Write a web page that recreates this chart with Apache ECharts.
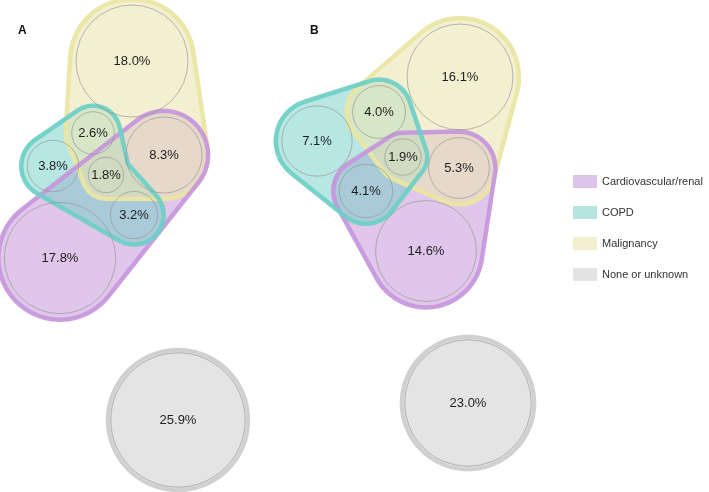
<!DOCTYPE html>
<html><head><meta charset="utf-8">
<script src="https://cdn.jsdelivr.net/npm/echarts@6/dist/echarts.min.js"></script>
<style>html,body{margin:0;padding:0;background:#fff}#c{width:709px;height:492px}</style>
</head><body><div id="c"></div>
<script>
// ---- data ----
const setNames = ['Cardiovascular/renal', 'COPD', 'Malignancy', 'None or unknown'];
const setKeys = ['V', 'C', 'M', 'N'];
const panelLabels = ['A', 'B'];
// Panel A: percentages, circle centres, set membership (M=malignancy, C=COPD, V=cardiovascular, N=none)
const aValues = [18.0, 2.6, 3.8, 1.8, 8.3, 3.2, 17.8, 25.9];
const aX = [132, 93, 53, 106, 164, 134, 60, 178];
const aY = [61, 133, 166, 175, 155, 215, 258, 420];
const aSets = ['M', 'MC', 'C', 'MCV', 'MV', 'CV', 'V', 'N'];
// outline of COPD in panel A bends inward: union of two sub-hulls (circle indices)
const aGroups = {C: [[2, 1, 3], [2, 3, 5]]};
// Panel B
const bValues = [16.1, 4.0, 7.1, 1.9, 5.3, 4.1, 14.6, 23.0];
const bX = [460, 379, 317, 403, 459, 366, 426, 468];
const bY = [77, 112, 141, 157, 168, 191, 251, 403];
const bSets = ['M', 'MC', 'C', 'MCV', 'MV', 'CV', 'V', 'N'];
const bGroups = {};

const panels = [
  {values: aValues, x: aX, y: aY, sets: aSets, groups: aGroups},
  {values: bValues, x: bX, y: bY, sets: bSets, groups: bGroups}
];
const radiusScale = v => 13.2 * Math.sqrt(v);

const styles = {
  V: {fill: 'rgba(193,141,213,0.5)', stroke: 'rgba(197,150,220,0.92)', width: 4.5, pad: 6, legend: '#dcc4e8'},
  C: {fill: 'rgba(113,205,197,0.5)', stroke: 'rgba(108,207,198,0.92)', width: 4.5, pad: 6, legend: '#b5e5e1'},
  M: {fill: 'rgba(235,230,180,0.6)', stroke: 'rgba(234,230,163,0.95)', width: 4.5, pad: 6, legend: '#f2f0cf'},
  N: {fill: 'rgba(228,228,228,1)', stroke: 'rgba(208,208,208,1)', width: 4, pad: 3, legend: '#e3e3e3'}
};

function convexHull(points) {
  const pts = points.slice().sort((a, b) => a[0] - b[0] || a[1] - b[1]);
  const cross = (o, a, b) => (a[0] - o[0]) * (b[1] - o[1]) - (a[1] - o[1]) * (b[0] - o[0]);
  const lower = [];
  for (const p of pts) { while (lower.length >= 2 && cross(lower[lower.length - 2], lower[lower.length - 1], p) <= 0) lower.pop(); lower.push(p); }
  const upper = [];
  for (let i = pts.length - 1; i >= 0; i--) { const p = pts[i]; while (upper.length >= 2 && cross(upper[upper.length - 2], upper[upper.length - 1], p) <= 0) upper.pop(); upper.push(p); }
  upper.pop(); lower.pop();
  return lower.concat(upper);
}

function unionOutline(polys, c) {
  const out = [];
  const N = 360;
  const cr = (a, b) => a[0] * b[1] - a[1] * b[0];
  for (let k = 0; k < N; k++) {
    const th = k / N * Math.PI * 2;
    const d = [Math.cos(th), Math.sin(th)];
    const ivs = [];
    polys.forEach(poly => {
      const ts = [];
      for (let i = 0; i < poly.length; i++) {
        const p = poly[i], q = poly[(i + 1) % poly.length];
        const e = [q[0] - p[0], q[1] - p[1]];
        const den = cr(d, e);
        if (Math.abs(den) < 1e-9) continue;
        const pc = [p[0] - c[0], p[1] - c[1]];
        const t = cr(pc, e) / den;
        const s = cr(pc, d) / den;
        if (s >= -1e-6 && s <= 1 + 1e-6) ts.push(t);
      }
      if (ts.length >= 2) {
        const ta = Math.min(...ts), tb = Math.max(...ts);
        if (tb > 0) ivs.push([Math.max(ta, 0), tb]);
      }
    });
    let reach = 0, changed = true;
    while (changed) {
      changed = false;
      for (const iv of ivs) if (iv[0] <= reach + 0.5 && iv[1] > reach) { reach = iv[1]; changed = true; }
    }
    out.push([c[0] + reach * d[0], c[1] + reach * d[1]]);
  }
  return out;
}

function outlinePoints(P, key, api) {
  const pad = styles[key].pad;
  const circlePts = i => {
    const c = api.coord([P.x[i], P.y[i]]);
    const r = api.size([radiusScale(P.values[i]), 0])[0] + pad;
    const pts = [];
    for (let k = 0; k < 96; k++) {
      const a = k / 96 * Math.PI * 2;
      pts.push([c[0] + r * Math.cos(a), c[1] + r * Math.sin(a)]);
    }
    return pts;
  };
  const members = [];
  P.values.forEach((v, i) => { if (P.sets[i].indexOf(key) >= 0) members.push(i); });
  if (!members.length) return null;
  const groups = P.groups[key];
  if (!groups) return convexHull([].concat(...members.map(circlePts)));
  const polys = groups.map(g => convexHull([].concat(...g.map(circlePts))));
  let cx = 0, cy = 0;
  members.forEach(i => { const c = api.coord([P.x[i], P.y[i]]); cx += c[0]; cy += c[1]; });
  return unionOutline(polys, [cx / members.length, cy / members.length]);
}

function hullRender(key, mode) {
  return function (params, api) {
    const P = panels[params.dataIndex];
    const st = styles[key];
    const pts = outlinePoints(P, key, api);
    if (!pts) return null;
    return {
      type: 'polygon',
      shape: {points: pts},
      style: mode === 'fill'
        ? {fill: st.fill, stroke: null, lineWidth: 0}
        : {fill: null, stroke: st.stroke, lineWidth: st.width, lineJoin: 'round'}
    };
  };
}

const circleData = [];
panels.forEach((P, p) => P.values.forEach((v, i) => circleData.push([P.x[i], P.y[i], v, p])));

const series = [];
// fills: cardiovascular bottom, then COPD, then malignancy
setKeys.forEach((k, si) => series.push({
  type: 'custom', name: setNames[si], coordinateSystem: 'cartesian2d',
  renderItem: hullRender(k, 'fill'), itemStyle: {color: styles[k].legend},
  data: panels.map((P, p) => [P.x[0], P.y[0], p]), silent: true, z: 1 + si
}));
// outlines drawn on top of all fills
['M', 'V', 'C', 'N'].forEach((k, si) => series.push({
  type: 'custom', name: 'outline-' + k, coordinateSystem: 'cartesian2d',
  renderItem: hullRender(k, 'stroke'),
  data: panels.map((P, p) => [P.x[0], P.y[0], p]), silent: true, z: 6 + si
}));
series.push({
  type: 'custom', name: 'circles', coordinateSystem: 'cartesian2d', z: 20, silent: true,
  data: circleData,
  renderItem: function (params, api) {
    const c = api.coord([api.value(0), api.value(1)]);
    const v = api.value(2);
    const r = api.size([radiusScale(v), 0])[0];
    return {
      type: 'group',
      children: [
        {type: 'circle', shape: {cx: c[0], cy: c[1], r: r}, style: {fill: 'none', stroke: 'rgba(150,150,150,0.85)', lineWidth: 0.8}},
        {type: 'text', x: c[0], y: c[1], style: {text: v.toFixed(1) + '%', fill: '#1e1e1e', fontSize: 13, fontFamily: 'Liberation Sans, Arial, sans-serif', align: 'center', verticalAlign: 'middle'}}
      ]
    };
  }
});

const chart = echarts.init(document.getElementById('c'), null, {renderer: 'canvas'});
chart.setOption({
  animation: false,
  backgroundColor: '#fff',
  title: [
    {text: panelLabels[0], left: 18, top: 25, padding: 0, textStyle: {fontSize: 12, fontWeight: 'bold', color: '#111', fontFamily: 'Liberation Sans, Arial, sans-serif'}},
    {text: panelLabels[1], left: 310, top: 25, padding: 0, textStyle: {fontSize: 12, fontWeight: 'bold', color: '#111', fontFamily: 'Liberation Sans, Arial, sans-serif'}}
  ],
  legend: {
    data: setNames, orient: 'vertical', left: 573, top: 175, padding: 0,
    itemWidth: 24, itemHeight: 13, itemGap: 18, icon: 'rect', selectedMode: false,
    textStyle: {fontSize: 11, color: '#333', fontFamily: 'Liberation Sans, Arial, sans-serif'}
  },
  grid: {left: 0, right: 0, top: 0, bottom: 0},
  xAxis: {type: 'value', min: 0, max: 709, show: false},
  yAxis: {type: 'value', min: 0, max: 492, inverse: true, show: false},
  series: series
});
</script></body></html>
